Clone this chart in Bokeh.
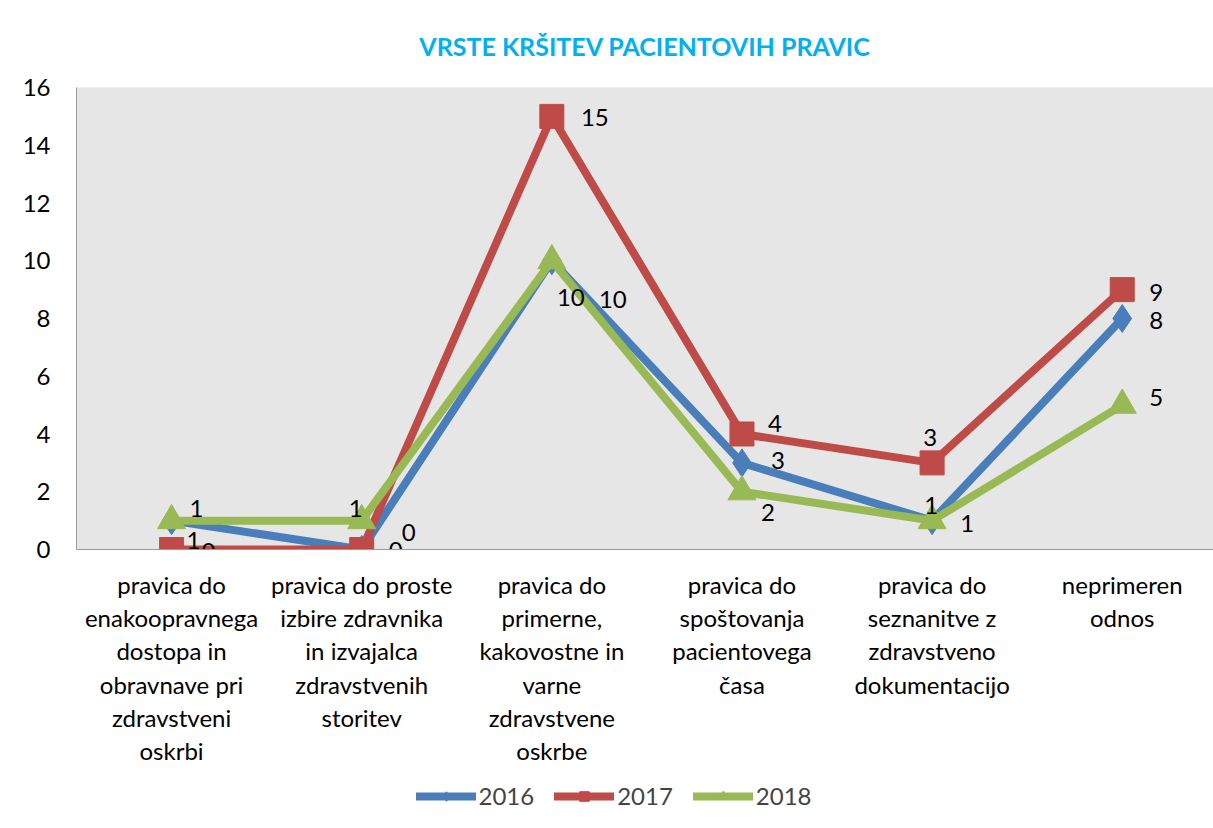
from bokeh.plotting import figure
from bokeh.layouts import column
from bokeh.models import ColumnDataSource, Legend, LegendItem, FixedTicker, Range1d, Title
from bokeh.embed import file_html
from bokeh.resources import INLINE
from bokeh.core.properties import value

categories = [
    "pravica do\nenakoopravnega\ndostopa in\nobravnave pri\nzdravstveni\noskrbi",
    "pravica do proste\nizbire zdravnika\nin izvajalca\nzdravstvenih\nstoritev",
    "pravica do\nprimerne,\nkakovostne in\nvarne\nzdravstvene\noskrbe",
    "pravica do\nspoštovanja\npacientovega\nčasa",
    "pravica do\nseznanitve z\nzdravstveno\ndokumentacijo",
    "neprimeren\nodnos",
]
years = ["2016", "2017", "2018"]
v2016 = [1, 0, 10, 3, 1, 8]
v2017 = [0, 0, 15, 4, 3, 9]
v2018 = [1, 1, 10, 2, 1, 5]
y_ticks = [0, 2, 4, 6, 8, 10, 12, 14, 16]
title_text = "VRSTE KRŠITEV PACIENTOVIH PRAVIC"

series = {"2016": v2016, "2017": v2017, "2018": v2018}
colors = {"2016": "#4a7ebb", "2017": "#be4b48", "2018": "#98b954"}
markers = {"2016": "diamond", "2017": "square", "2018": "triangle"}
msizes = {"2016": 28, "2017": 24, "2018": 28}
# data-label pixel offsets (style)
lab_dx = {"2016": [25, 47, 61, 36, -1, 34], "2017": [37, 34, 43, 33, -2, 34], "2018": [22, -6, 19, 26, 35, 34]}
lab_dy = {"2016": [-12, -17, 39, -2, -15, 2], "2017": [2, 1, 1, -11, -25, 3], "2018": [20, -12, 37, 21, 3, -8]}

FONT = "Lato"

p = figure(frame_width=1137, frame_height=462, output_backend="svg", toolbar_location=None,
           x_range=Range1d(-0.5, 5.48), y_range=Range1d(0, 16),
           min_border_left=76, min_border_right=0, min_border_top=87, min_border_bottom=0)
p.background_fill_color = "#e6e6e6"
p.border_fill_color = "white"
p.outline_line_color = None
p.xgrid.visible = False
p.ygrid.visible = False

t = Title(text=title_text, align="center", text_color="#00b0f0", text_font=FONT,
          text_font_size="25px", text_font_style="bold", standoff=54)
p.add_layout(t, "above")

# axes
p.yaxis.ticker = FixedTicker(ticks=y_ticks)
p.yaxis.major_tick_line_color = None
p.yaxis.minor_tick_line_color = None
p.yaxis.major_tick_out = 0
p.yaxis.major_tick_in = 0
p.yaxis.axis_line_color = "#9a9a9a"
p.yaxis.major_label_text_font = FONT
p.yaxis.major_label_text_font_size = "24px"
p.yaxis.major_label_text_color = "black"
p.yaxis.major_label_standoff = 26

xs = list(range(len(categories)))
p.xaxis.ticker = FixedTicker(ticks=xs)
p.xaxis.major_label_overrides = {i: c for i, c in zip(xs, categories)}
p.xaxis.major_tick_line_color = None
p.xaxis.minor_tick_line_color = None
p.xaxis.major_tick_out = 0
p.xaxis.major_tick_in = 0
p.xaxis.axis_line_color = "#9a9a9a"
p.xaxis.major_label_text_font = FONT
p.xaxis.major_label_text_font_size = "24px"
p.xaxis.major_label_text_color = "black"
p.xaxis.major_label_text_line_height = 1.15
p.xaxis.major_label_standoff = 20

for yr in years:
    src = ColumnDataSource(dict(x=xs, y=series[yr]))
    p.line("x", "y", source=src, line_color=colors[yr], line_width=8,
           line_join="miter", line_cap="round")
    p.scatter("x", "y", source=src, marker=markers[yr], size=msizes[yr],
              fill_color=colors[yr], line_color=colors[yr])

for yr in years:
    src = ColumnDataSource(dict(x=xs, y=series[yr], lab=[str(v) for v in series[yr]],
                                dx=lab_dx[yr], dy=lab_dy[yr]))
    p.text("x", "y", text="lab", source=src, x_offset="dx", y_offset="dy",
           text_align="center", text_baseline="middle", text_font=value(FONT),
           text_font_size="24px", text_color="black")

# legend strip below the chart (series drawn out of view, only the legend shows)
lf = figure(width=1213, height=42, output_backend="svg", toolbar_location=None,
            x_range=Range1d(-0.5, 5.5), y_range=Range1d(100, 101),
            x_axis_type=None, y_axis_type=None,
            min_border_left=0, min_border_right=62, min_border_top=0, min_border_bottom=0)
lf.outline_line_color = None
lf.xgrid.visible = False
lf.ygrid.visible = False
items = []
for yr in years:
    src = ColumnDataSource(dict(x=xs, y=series[yr]))
    ln = lf.line("x", "y", source=src, line_color=colors[yr], line_width=8,
                 line_join="miter", line_cap="round")
    sc = lf.scatter("x", "y", source=src, marker=markers[yr], size=msizes[yr],
                    fill_color=colors[yr], line_color=colors[yr])
    items.append(LegendItem(label=yr, renderers=[ln, sc]))
legend = Legend(items=items, orientation="horizontal", location="bottom_center",
                border_line_color=None, background_fill_alpha=0,
                label_text_font=FONT, label_text_font_size="24px",
                glyph_width=60, glyph_height=24, spacing=20, label_standoff=3,
                margin=0, padding=0)
lf.add_layout(legend, "center")

layout = column(p, lf, spacing=0)
open("out.html", "w").write(file_html(layout, INLINE))
